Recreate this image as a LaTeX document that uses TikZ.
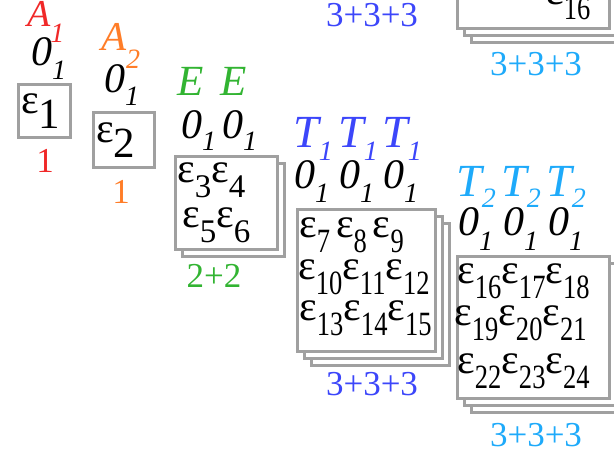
\documentclass[tikz,border=0pt]{standalone}
\usepackage{fontspec}
\setmainfont{Liberation Serif}
\newfontfamily\narrowserif[FakeStretch=0.78]{Liberation Serif}

\definecolor{aone}{RGB}{240,40,40}
\definecolor{atwo}{RGB}{255,125,40}
\definecolor{egreen}{RGB}{50,180,50}
\definecolor{tone}{RGB}{60,70,250}
\definecolor{ttwo}{RGB}{30,170,250}
\definecolor{boxgray}{RGB}{160,160,160}

% lowered small text, epsilon with index
\newcommand{\lo}[2][13]{\raisebox{-#1pt}{\fontsize{28}{28}\selectfont #2}}
\newcommand{\ep}[2][33]{ε\raisebox{-15pt}{\fontsize{#1}{#1}\selectfont #2}}
\newcommand{\epn}[1]{ε\raisebox{-15pt}{\narrowserif\fontsize{34}{34}\selectfont #1}}

\tikzset{
  lab/.style={anchor=base west, inner sep=0pt, font=\fontsize{#1}{#1}\selectfont\itshape},
  lab/.default=42,
  epsrow/.style={anchor=base west, inner sep=0pt, font=\fontsize{42}{42}\selectfont},
  count/.style={anchor=base, inner sep=0pt, font=\fontsize{35}{35}\selectfont},
  cell/.style={draw=boxgray, line width=3pt, fill=white}
}

\begin{document}
\begin{tikzpicture}[x=1pt, y=-1pt]
    \clip (0,0) rectangle (614,453);
    % A1
    \node[lab=38, aone] (a1lab) at (27,26) {A\lo[16]{1}};
    \node[lab] (a1zero) at (31,65) {0\lo[14]{1}};
    \draw[cell] (18,84) rectangle (70,137);
    \node[epsrow] (a1eps) at (21,113) {\ep[43]{1}};
    \node[count, aone] (a1dim) at (45,172) {1};
    % A2
    \node[lab=41, atwo] (a2lab) at (101,50) {A\lo[18]{2}};
    \node[lab] (a2zero) at (104,92) {0\lo{1}};
    \draw[cell] (93,112) rectangle (154,167);
    \node[epsrow] (a2eps) at (96,142) {\ep[43]{2}};
    \node[count, atwo] (a2dim) at (121,203) {1};
    % E
    \foreach \x/\z [count=\i] in {177/181,220/222} {
        \node[lab=43, egreen] (elab\i) at (\x,95) {E};
        \node[lab] (ezero\i) at (\z,138) {0\lo[12]{1}};
    }
    \foreach \d in {7,0} \draw[cell] (175+\d,156+\d) rectangle (277+\d,249+\d);
    \node[epsrow] (erow1) at (177,182) {\ep{3}\ep{4}};
    \node[epsrow] (erow2) at (182,227) {\ep{5}\ep{6}};
    \node[count, egreen] (edim) at (214,287) {2+2};
    % T1
    \foreach \x [count=\i] in {293,338,382} {
        \node[lab=46, tone] (tonelab\i) at (\x,147) {T\lo{1}};
        \node[lab] (tonezero\i) at (\x+1,188) {0\lo[14]{1}};
    }
    \foreach \d in {14,7,0} \draw[cell] (297+\d,209+\d) rectangle (435+\d,351+\d);
    \node[epsrow] (tonerow1) at (299,237) {\epn{7}\hspace{6pt}\epn{8}\hspace{6pt}\epn{9}};
    \node[epsrow] (tonerow2) at (298,279) {\epn{10}\epn{11}\epn{12}};
    \node[epsrow] (tonerow3) at (299,320) {\epn{13}\epn{14}\epn{15}};
    \node[count, tone] (tonedim) at (372,395) {3+3+3};
    % T2
    \foreach \x [count=\i] in {456,501,546} {
        \node[lab=46, ttwo] (ttwolab\i) at (\x,196) {T\lo[11]{2}};
        \node[lab] (ttwozero\i) at (\x+2,235) {0\lo[15]{1}};
    }
    \foreach \d in {14,7,0} \draw[cell] (457+\d,256+\d) rectangle (609+\d,398+\d);
    \node[epsrow] (ttworow1) at (457,283) {\epn{16}\epn{17}\epn{18}};
    \node[epsrow] (ttworow2) at (454,325) {\epn{19}\epn{20}\epn{21}};
    \node[epsrow] (ttworow3) at (457,373) {\epn{22}\epn{23}\epn{24}};
    \node[count, ttwo] (ttwodim) at (536,446) {3+3+3};
    % pieces of the copy above, cut off by the top edge
    \node[count, tone] (tonedimtop) at (372,26) {3+3+3};
    \foreach \d in {14,7,0} \draw[cell] (457+\d,-114+\d) rectangle (609+\d,28+\d);
    \node[epsrow] (ttwoepstop) at (546,4) {\epn{16}};
    \node[count, ttwo] (ttwodimtop) at (536,75) {3+3+3};
\end{tikzpicture}
\end{document}
